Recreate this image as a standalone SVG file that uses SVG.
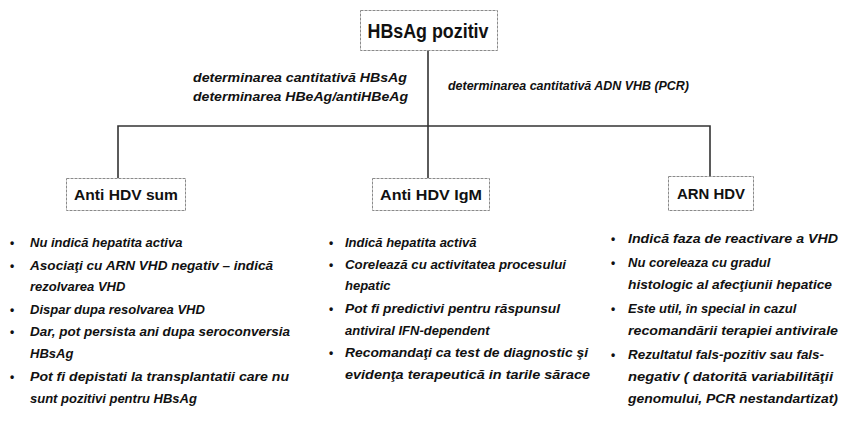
<svg xmlns="http://www.w3.org/2000/svg" width="841" height="422" viewBox="0 0 841 422">
<style>
.box{fill:#fff;stroke:#8a8a8a;stroke-width:1;stroke-dasharray:3 1}
.hdr{font-family:"Liberation Sans",Arial,sans-serif;font-weight:bold;fill:#111}
.lbl{font-family:"Liberation Sans",Arial,sans-serif;font-weight:bold;font-style:italic;font-size:13px;fill:#111}
.bul{font-family:"Liberation Sans",Arial,sans-serif;font-weight:bold;font-size:12px;fill:#111}
.conn{fill:none;stroke:#333;stroke-width:1.6}
</style>
<rect width="841" height="422" fill="#fff"/>
<g id="connectors">
<path class="conn" d="M428 50 V178"/>
<path class="conn" d="M118 178 V126 H710 V176"/>
</g>
<g id="root">
<rect class="box" x="360.5" y="10.5" width="137" height="40"/>
<text class="hdr" x="428" y="38" font-size="20" text-anchor="middle" textLength="121" lengthAdjust="spacingAndGlyphs">HBsAg pozitiv</text>
</g>
<g id="edge-labels">
<text class="lbl" x="193" y="82" textLength="214" lengthAdjust="spacingAndGlyphs">determinarea cantitativă HBsAg</text>
<text class="lbl" x="193" y="101" textLength="215" lengthAdjust="spacingAndGlyphs">determinarea HBeAg/antiHBeAg</text>
<text class="lbl" x="448" y="90" textLength="241" lengthAdjust="spacingAndGlyphs">determinarea cantitativă ADN VHB (PCR)</text>
</g>
<g id="anti-hdv-sum">
<rect class="box" x="66.5" y="178.5" width="119" height="32"/>
<text class="hdr" x="126" y="200" font-size="15" text-anchor="middle" textLength="104" lengthAdjust="spacingAndGlyphs">Anti HDV sum</text>
</g>
<g id="anti-hdv-igm">
<rect class="box" x="372.5" y="178.5" width="117" height="32"/>
<text class="hdr" x="431" y="200" font-size="15" text-anchor="middle" textLength="102" lengthAdjust="spacingAndGlyphs">Anti HDV IgM</text>
</g>
<g id="arn-hdv">
<rect class="box" x="668.5" y="176.5" width="85" height="34"/>
<text class="hdr" x="711" y="199" font-size="15" text-anchor="middle" textLength="68" lengthAdjust="spacingAndGlyphs">ARN HDV</text>
</g>
<g id="list-left">
<text class="bul" x="10" y="247">•</text>
<text class="lbl" x="30" y="247">Nu indică hepatita activa</text>
<text class="bul" x="10" y="270">•</text>
<text class="lbl" x="30" y="270" textLength="243" lengthAdjust="spacingAndGlyphs">Asociaţi cu ARN VHD negativ – indică</text>
<text class="lbl" x="30" y="291">rezolvarea VHD</text>
<text class="bul" x="10" y="314">•</text>
<text class="lbl" x="30" y="314">Dispar dupa resolvarea VHD</text>
<text class="bul" x="10" y="336">•</text>
<text class="lbl" x="30" y="336" textLength="260" lengthAdjust="spacingAndGlyphs">Dar, pot persista ani dupa seroconversia</text>
<text class="lbl" x="30" y="358">HBsAg</text>
<text class="bul" x="10" y="381">•</text>
<text class="lbl" x="30" y="381" textLength="259" lengthAdjust="spacingAndGlyphs">Pot fi depistati la transplantatii care nu</text>
<text class="lbl" x="30" y="403">sunt pozitivi pentru HBsAg</text>
</g>
<g id="list-middle">
<text class="bul" x="329" y="247">•</text>
<text class="lbl" x="345" y="247">Indică hepatita activă</text>
<text class="bul" x="329" y="269">•</text>
<text class="lbl" x="345" y="269" textLength="221" lengthAdjust="spacingAndGlyphs">Corelează cu activitatea procesului</text>
<text class="lbl" x="345" y="290">hepatic</text>
<text class="bul" x="329" y="313">•</text>
<text class="lbl" x="345" y="313" textLength="215" lengthAdjust="spacingAndGlyphs">Pot fi predictivi pentru răspunsul</text>
<text class="lbl" x="345" y="335">antiviral IFN-dependent</text>
<text class="bul" x="329" y="357">•</text>
<text class="lbl" x="345" y="357" textLength="243" lengthAdjust="spacingAndGlyphs">Recomandaţi ca test de diagnostic şi</text>
<text class="lbl" x="345" y="379" textLength="245" lengthAdjust="spacingAndGlyphs">evidenţa terapeutică in tarile sărace</text>
</g>
<g id="list-right">
<text class="bul" x="611" y="243">•</text>
<text class="lbl" x="628" y="243" textLength="210" lengthAdjust="spacingAndGlyphs">Indică faza de reactivare a VHD</text>
<text class="bul" x="611" y="267">•</text>
<text class="lbl" x="628" y="267">Nu coreleaza cu gradul</text>
<text class="lbl" x="628" y="289" textLength="204" lengthAdjust="spacingAndGlyphs">histologic al afecţiunii hepatice</text>
<text class="bul" x="611" y="313">•</text>
<text class="lbl" x="628" y="313">Este util, în special in cazul</text>
<text class="lbl" x="628" y="335" textLength="210" lengthAdjust="spacingAndGlyphs">recomandării terapiei antivirale</text>
<text class="bul" x="611" y="359">•</text>
<text class="lbl" x="628" y="359" textLength="196" lengthAdjust="spacingAndGlyphs">Rezultatul fals-pozitiv sau fals-</text>
<text class="lbl" x="628" y="381" textLength="205" lengthAdjust="spacingAndGlyphs">negativ ( datorită variabilităţii</text>
<text class="lbl" x="628" y="403" textLength="210" lengthAdjust="spacingAndGlyphs">genomului, PCR nestandartizat)</text>
</g>
</svg>
